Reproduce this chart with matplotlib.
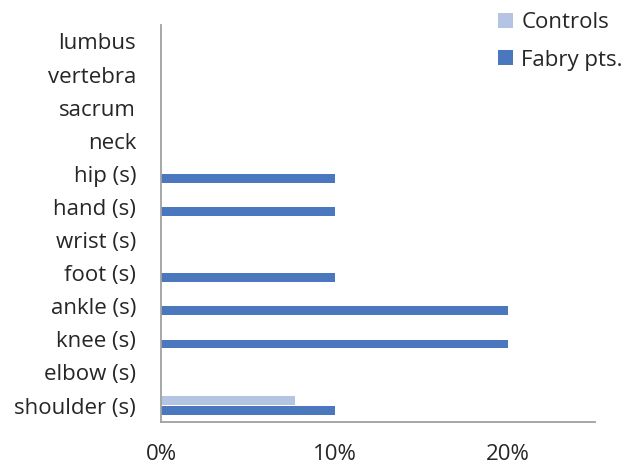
import matplotlib
matplotlib.use("Agg")
import matplotlib.pyplot as plt
import numpy as np

categories = ["shoulder (s)", "elbow (s)", "knee (s)", "ankle (s)", "foot (s)",
              "wrist (s)", "hand (s)", "hip (s)", "neck", "sacrum", "vertebra", "lumbus"]
controls = [7.7, 0, 0, 0, 0, 0, 0, 0, 0, 0, 0, 0]
fabry = [10, 0, 20, 20, 10, 0, 10, 10, 0, 0, 0, 0]
xticks = [0, 10, 20]
xticklabels = ["0%", "10%", "20%"]

plt.rcParams['font.family'] = ['Open Sans', 'DejaVu Sans']

fig = plt.figure(figsize=(6.25, 4.69), dpi=100)
ax = fig.add_axes([0.258, 0.100, 0.694, 0.847])

y = np.arange(len(categories))
h = 0.27
ax.barh(y + 0.14, controls, height=h, color="#B4C4E2", label="Controls")
ax.barh(y - 0.14, fabry, height=h, color="#4A77BD", label="Fabry pts.")

ax.set_xlim(0, 25)
ax.set_ylim(-0.5, len(categories) - 0.5)
ax.set_yticks(y)
ax.set_yticklabels(categories)
ax.set_xticks(xticks)
ax.set_xticklabels(xticklabels)
ax.tick_params(length=0, labelsize=16, colors="#262626")
ax.tick_params(axis='x', pad=16)
ax.tick_params(axis='y', pad=18)
for s in ["top", "right"]:
    ax.spines[s].set_visible(False)
for s in ["left", "bottom"]:
    ax.spines[s].set_color("#A0A0A0")
    ax.spines[s].set_linewidth(1.3)

leg = fig.legend(loc="upper left", bbox_to_anchor=(0.765, 1.017), frameon=False,
                 fontsize=16, handlelength=0.65, handleheight=0.65, handletextpad=0.4,
                 labelspacing=0.75, labelcolor="#262626")

fig.savefig("out.png", dpi=100)
